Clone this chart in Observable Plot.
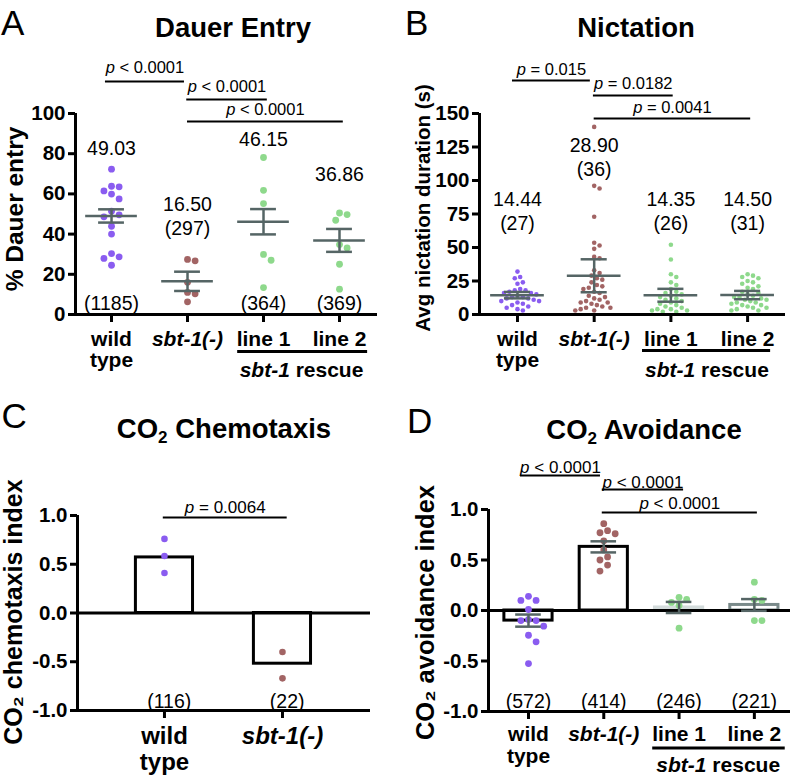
<!DOCTYPE html>
<html>
<head>
<meta charset="utf-8">
<script src="https://cdn.jsdelivr.net/npm/d3@7"></script>
<script src="https://cdn.jsdelivr.net/npm/@observablehq/plot@0.6"></script>
<style>
  html, body { margin: 0; padding: 0; background: #fff; }
  #fig { position: relative; width: 796px; height: 780px; overflow: hidden; background: #fff;
         font-family: "Liberation Sans", Arial, Helvetica, sans-serif; color: #000; }
  .panel { position: absolute; }
  .panel svg { display: block; }
  .letter { position: absolute; font-size: 35px; line-height: 1; }
  .title { position: absolute; font-size: 27.5px; font-weight: bold; line-height: 1; white-space: nowrap; transform: translateX(-50%); }
  .title sub { font-size: 0.62em; vertical-align: -0.28em; line-height: 0; }
  #fig svg [aria-label^="x-axis"] line, #fig svg [aria-label^="x-axis"] path,
  #fig svg [aria-label^="y-axis"] line, #fig svg [aria-label^="y-axis"] path { stroke-width: 3px; stroke: #000; }
  #fig svg [aria-label^="y-axis"] text { font-size: 20.5px; font-weight: bold; fill: #000; }
</style>
</head>
<body>
<div id="fig"></div>
<script>
// ================= DATA =================
const categories = ["wild type", "sbt-1(-)", "line 1", "line 2"];
const rescueLabel = "sbt-1 rescue";

// A — Dauer entry (%)
const dauerWildType = [72.3, 63.8, 63.5, 61.5, 59.9, 57.5, 51.4, 49.6, 48.6, 43.9, 40.0, 30.3, 28.7, 27.9, 24.5];
const dauerSbt1 = [27.4, 26.7, 16.0, 11.0, 10.3, 6.3];
const dauerLine1 = [78.1, 61.8, 55.2, 29.9, 27.0, 13.4];
const dauerLine2 = [50.5, 49.7, 46.9, 34.8, 33.1, 25.0, 12.6];
const dauerMeans = [49.03, 16.50, 46.15, 36.86];
const dauerSEM = [3.3, 4.8, 6.3, 5.7];
const dauerN = [1185, 297, 364, 369];
const dauerTicks = [0, 20, 40, 60, 80, 100];
const dauerPValues = ["p < 0.0001", "p < 0.0001", "p < 0.0001"];

// B — Nictation duration (s)
const nictWildType = [32, 28, 27, 24, 23, 19, 18, 18, 17, 16, 16, 15, 14, 13, 13, 12, 12, 11, 10, 10, 9, 8, 7, 6, 5, 4, 3];
const nictSbt1 = [140, 96, 94, 73, 53.5, 51.5, 49, 43, 42, 33, 31, 29, 27, 26, 24, 22, 21, 20, 19, 17, 16, 14, 13, 12, 11, 10, 9, 9, 8, 7, 6, 5, 5, 4, 3, 3];
const nictLine1 = [52, 41, 30, 28, 24, 22, 19, 17, 16, 15, 14, 13, 12, 11, 10, 9, 8, 7, 6, 5, 4, 4, 3, 3, 2, 2];
const nictLine2 = [30, 29, 28, 27, 25, 24, 23, 21, 20, 19, 17, 16, 15, 14, 13, 13, 12, 11, 11, 10, 9, 9, 8, 7, 7, 6, 5, 5, 4, 3, 3];
const nictMeans = [14.44, 28.90, 14.35, 14.50];
const nictSEM = [2.4, 12.3, 4.8, 3.1];
const nictN = [27, 36, 26, 31];
const nictTicks = [0, 25, 50, 75, 100, 125, 150];
const nictPValues = ["p = 0.015", "p = 0.0182", "p = 0.0041"];

// C — CO2 chemotaxis index
const chemoCategories = ["wild type", "sbt-1(-)"];
const chemoWildType = [0.76, 0.585, 0.41];
const chemoSbt1 = [-0.40, -0.67];
const chemoMeans = [0.57, -0.52];
const chemoN = [116, 22];
const chemoPValues = ["p = 0.0064"];
const indexTicks = [-1, -0.5, 0, 0.5, 1];

// D — CO2 avoidance index
const avoidWildType = [0.14, 0.10, 0.10, 0.01, -0.09, -0.10, -0.10, -0.155, -0.245, -0.31, -0.525];
const avoidSbt1 = [0.86, 0.79, 0.77, 0.76, 0.69, 0.60, 0.53, 0.50, 0.45, 0.39];
const avoidLine1 = [0.13, 0.11, 0.08, 0.05, -0.175];
const avoidLine2 = [0.28, 0.11, 0.10, -0.10, -0.10];
const avoidMeans = [-0.10, 0.63, 0.03, 0.055];
const avoidSEM = [0.06, 0.055, 0.055, 0.058];
const avoidN = [572, 414, 246, 221];
const avoidPValues = ["p < 0.0001", "p < 0.0001", "p < 0.0001"];

// ================= STYLE / LAYOUT =================
const FONT = '"Liberation Sans", Arial, Helvetica, sans-serif';
const INK = "#000";
const SEM_COLOR = "#556565";
const PURPLE = "#8a5cf0", BROWN = "#a26464", GREEN = "#8ed98c";
const colors4 = [PURPLE, BROWN, GREEN, GREEN];

const canvas = document.createElement("canvas");
const ctx = canvas.getContext("2d");
function textWidth(str, size, weight = "normal", style = "normal") {
  ctx.font = `${style} ${weight} ${size}px ${FONT}`;
  return ctx.measureText(str).width;
}

// deterministic beeswarm: offsets (in x units) so dots do not overlap
function swarm(values, r, kx, ky) {
  const d = 2 * r + 0.8;
  const order = d3.range(values.length).sort((a, b) => d3.descending(values[a], values[b]) || a - b);
  const placed = [];
  const out = new Array(values.length);
  for (const i of order) {
    const py = values[i] * ky;
    let chosen = 0;
    for (let k = 0; k < 400; k++) {
      const cand = k === 0 ? 0 : (k % 2 ? 1 : -1) * Math.ceil(k / 2) * d / 2;
      if (placed.every(p => (p.x - cand) ** 2 + (p.y - py) ** 2 >= d * d - 1e-6)) { chosen = cand; break; }
    }
    placed.push({x: chosen, y: py});
    out[i] = chosen / kx;
  }
  return out;
}

function pMarks(list, fs) {
  const marks = [];
  for (const p of list) {
    marks.push(Plot.ruleY([p], {x1: "x1", x2: "x2", y: "y", stroke: INK, strokeWidth: 2}));
    const rest = p.label.replace(/^p\s*/, "");
    const wP = textWidth("p", fs, "normal", "italic");
    const wS = textWidth(" ", fs);
    const W = wP + wS + textWidth(rest, fs);
    const xm = (p.x1 + p.x2) / 2;
    marks.push(Plot.text([p], {x: () => xm, y: "ty", text: () => "p", fontStyle: "italic", textAnchor: "start", dx: -W / 2, fontSize: fs, fill: INK}));
    marks.push(Plot.text([p], {x: () => xm, y: "ty", text: () => rest, textAnchor: "start", dx: -W / 2 + wP + wS, fontSize: fs, fill: INK}));
  }
  return marks;
}

function makePanel(L, S) {
  const n = S.cats.length;
  const idx = d3.range(n);
  const kx = (L.width - L.ml - L.mr) / (L.xd[1] - L.xd[0]);
  const ky = (L.height - L.mt - L.mb) / (L.yd[1] - L.yd[0]);
  const y0 = L.yd[0];
  const marks = [];

  if (S.barMeans) {
    marks.push(Plot.rect(idx, {
      x1: i => i - L.barHalf, x2: i => i + L.barHalf, y1: () => 0, y2: i => S.barMeans[i],
      fill: "white", stroke: i => S.barStrokes[i], strokeWidth: 3
    }));
  }
  if (S.zeroLine) marks.push(Plot.ruleY([0], {stroke: INK, strokeWidth: 3}));

  S.groups.forEach((vals, g) => {
    const offs = swarm(vals, L.r, kx, ky);
    const rows = vals.map((v, j) => ({x: g + offs[j], y: v}));
    marks.push(Plot.dot(rows, {x: "x", y: "y", r: L.r, fill: S.colors[g], stroke: "none"}));
  });

  if (S.showMeanLine) {
    marks.push(Plot.ruleY(idx, {x1: i => i - L.meanHalf, x2: i => i + L.meanHalf, y: i => S.means[i], stroke: SEM_COLOR, strokeWidth: 2.5}));
  }
  if (S.sem) {
    marks.push(Plot.ruleX(idx, {x: i => i, y1: i => S.means[i] - S.sem[i], y2: i => S.means[i] + S.sem[i], stroke: SEM_COLOR, strokeWidth: 2.5}));
    marks.push(Plot.ruleY(idx, {x1: i => i - L.capHalf, x2: i => i + L.capHalf, y: i => S.means[i] + S.sem[i], stroke: SEM_COLOR, strokeWidth: 2.5}));
    marks.push(Plot.ruleY(idx, {x1: i => i - L.capHalf, x2: i => i + L.capHalf, y: i => S.means[i] - S.sem[i], stroke: SEM_COLOR, strokeWidth: 2.5}));
  }

  if (S.valueLabels) marks.push(Plot.text(S.valueLabels, {x: "x", y: "y", text: "text", fontSize: 19.5, lineHeight: 1.23, fill: INK}));

  // category labels
  S.cats.forEach((c, i) => {
    const italic = c.startsWith("sbt");
    const t = c === "wild type" ? "wild\ntype" : c;
    marks.push(Plot.text([{x: i, y: y0, t}], {x: "x", y: "y", text: "t", dy: L.catDy, lineAnchor: "top",
      fontSize: L.catFs, fontWeight: "bold", fontStyle: italic ? "italic" : "normal", lineHeight: L.catLh, fill: INK}));
  });
  if (L.rescue) {
    const R = L.rescue;
    marks.push(Plot.ruleY([{x1: R.x1, x2: R.x2, y: y0}], {x1: "x1", x2: "x2", y: "y", dy: R.ruleDy, stroke: INK, strokeWidth: 3}));
    const [ital, rest] = [rescueLabel.split(" ")[0], rescueLabel.split(" ").slice(1).join(" ")];
    const fs = L.catFs;
    const w1 = textWidth(ital, fs, "bold", "italic") + textWidth(" ", fs, "bold");
    const W = w1 + textWidth(rest, fs, "bold");
    marks.push(Plot.text([{x: R.xc, y: y0}], {x: "x", y: "y", text: () => ital, dy: R.textDy, dx: -W / 2, lineAnchor: "top", textAnchor: "start", fontSize: fs, fontWeight: "bold", fontStyle: "italic", fill: INK}));
    marks.push(Plot.text([{x: R.xc, y: y0}], {x: "x", y: "y", text: () => rest, dy: R.textDy, dx: -W / 2 + w1, lineAnchor: "top", textAnchor: "start", fontSize: fs, fontWeight: "bold", fill: INK}));
  }

  marks.push(...pMarks(S.pvals, L.pFs));

  // y-axis title
  marks.push(Plot.text([{x: L.xd[0], y: L.ylabY}], {x: "x", y: "y", text: () => S.ylabel, rotate: -90, dx: L.ylabDx,
    fontSize: L.ylabFs, fontWeight: "bold", fill: INK}));

  // axis lines
  marks.push(Plot.ruleX([L.xd[0]], {stroke: INK, strokeWidth: 3}));
  marks.push(Plot.ruleY([L.yd[0]], {stroke: INK, strokeWidth: 3}));

  const svg = Plot.plot({
    width: L.width, height: L.height,
    marginLeft: L.ml, marginRight: L.mr, marginTop: L.mt, marginBottom: L.mb,
    x: {domain: L.xd, ticks: idx, tickSize: 8, tickFormat: () => "", label: null},
    y: {domain: L.yd, ticks: S.yTicks, tickSize: 7, tickPadding: 3, tickFormat: S.tickFormat, label: null},
    color: {type: "identity"},
    style: {fontFamily: FONT, fontSize: "19px", color: INK, background: "white", overflow: "visible"},
    marks
  });
  const div = document.createElement("div");
  div.className = "panel";
  div.style.left = L.left + "px";
  div.style.top = L.top + "px";
  div.appendChild(svg);
  document.getElementById("fig").appendChild(div);
}

const fmt2 = d => d.toFixed(2);
const fmt1 = d => d.toFixed(1);

// ---------- Panel A ----------
const dauerLabelY = [83, 49.3, 87.6, 70.1];
makePanel(
  {left: 0, top: 0, width: 398, height: 390, ml: 75, mr: 21, mt: 113, mb: 76, xd: [-0.474, 3.5], yd: [0, 100],
   r: 3.4, meanHalf: 0.34, capHalf: 0.17, catFs: 21, catDy: 16, catLh: 1.03, pFs: 16.5,
   rescue: {x1: 1.66, x2: 3.37, xc: 2.5, ruleDy: 37, textDy: 48},
   ylabY: 52.5, ylabDx: -60, ylabFs: 24.5},
  {cats: categories, groups: [dauerWildType, dauerSbt1, dauerLine1, dauerLine2], colors: colors4,
   means: dauerMeans, sem: dauerSEM, showMeanLine: true, yTicks: dauerTicks, tickFormat: d => String(d),
   ylabel: "% Dauer entry",
   valueLabels: [
     ...dauerMeans.map((m, i) => ({x: i, y: dauerLabelY[i], text: i === 1 ? `${fmt2(m)}\n(${dauerN[i]})` : fmt2(m)})),
     ...dauerN.map((nn, i) => i === 1 ? null : ({x: i, y: 6, text: `(${nn})`})).filter(Boolean)
   ],
   pvals: [
     {x1: -0.08, x2: 0.96, y: 115.9, ty: 122.6, label: dauerPValues[0]},
     {x1: 0.99, x2: 2.05, y: 107.0, ty: 113.4, label: dauerPValues[1]},
     {x1: 1.0, x2: 3.05, y: 96.0, ty: 101.8, label: dauerPValues[2]}
   ]}
);

// ---------- Panel B ----------
const nictLabelY = [77.6, 118.3, 77.6, 77.6];
makePanel(
  {left: 400, top: 0, width: 396, height: 390, ml: 79, mr: 11, mt: 113, mb: 76, xd: [-0.495, 3.494], yd: [0, 150],
   r: 2.3, meanHalf: 0.35, capHalf: 0.17, catFs: 21, catDy: 16, catLh: 1.03, pFs: 16.5,
   rescue: {x1: 1.63, x2: 3.30, xc: 2.47, ruleDy: 36, textDy: 48},
   ylabY: 79.5, ylabDx: -56, ylabFs: 20.5},
  {cats: categories, groups: [nictWildType, nictSbt1, nictLine1, nictLine2], colors: colors4,
   means: nictMeans, sem: nictSEM, showMeanLine: true, yTicks: nictTicks, tickFormat: d => String(d),
   ylabel: "Avg nictation duration (s)",
   valueLabels: nictMeans.map((m, i) => ({x: i, y: nictLabelY[i], text: `${fmt2(m)}\n(${nictN[i]})`})),
   pvals: [
     {x1: -0.065, x2: 0.95, y: 174.6, ty: 182.8, label: nictPValues[0]},
     {x1: 0.99, x2: 2.03, y: 163.4, ty: 172.4, label: nictPValues[1]},
     {x1: 1.0, x2: 3.04, y: 146.3, ty: 154.5, label: nictPValues[2]}
   ]}
);

// ---------- Panel C ----------
makePanel(
  {left: 0, top: 390, width: 398, height: 390, ml: 77, mr: 28, mt: 125, mb: 70, xd: [-0.737, 1.746], yd: [-1, 1],
   r: 3.3, barHalf: 0.242, catFs: 24, catDy: 15, catLh: 1.08, pFs: 17,
   ylabY: 0.01, ylabDx: -64, ylabFs: 25},
  {cats: chemoCategories, groups: [chemoWildType, chemoSbt1], colors: [PURPLE, BROWN],
   barMeans: chemoMeans, barStrokes: [INK, INK], zeroLine: true,
   yTicks: indexTicks, tickFormat: fmt1, ylabel: "CO\u2082 chemotaxis index",
   valueLabels: chemoN.map((nn, i) => ({x: i + 0.04, y: -0.895, text: `(${nn})`})),
   pvals: [{x1: -0.01, x2: 1.04, y: 0.98, ty: 1.08, label: chemoPValues[0]}]}
);

// ---------- Panel D ----------
makePanel(
  {left: 400, top: 390, width: 396, height: 390, ml: 88, mr: 6, mt: 119, mb: 69, xd: [-0.531, 3.48], yd: [-1, 1],
   r: 3.4, barHalf: 0.32, capHalf: 0.17, catFs: 21, catDy: 14.5, catLh: 1.03, pFs: 17,
   rescue: {x1: 1.65, x2: 3.41, xc: 2.52, ruleDy: 36.5, textDy: 46},
   ylabY: -0.02, ylabDx: -63, ylabFs: 25.5},
  {cats: categories, groups: [avoidWildType, avoidSbt1, avoidLine1, avoidLine2], colors: colors4,
   barMeans: avoidMeans, barStrokes: [INK, INK, "#d3dbdb", "#7a8a8a"], zeroLine: true,
   means: avoidMeans, sem: avoidSEM, showMeanLine: false,
   yTicks: indexTicks, tickFormat: fmt1, ylabel: "CO\u2082 avoidance index",
   valueLabels: avoidN.map((nn, i) => ({x: i, y: -0.885, text: `(${nn})`})),
   pvals: [
     {x1: -0.106, x2: 0.956, y: 1.337, ty: 1.416, label: avoidPValues[0]},
     {x1: 0.98, x2: 2.06, y: 1.198, ty: 1.268, label: avoidPValues[1]},
     {x1: 0.98, x2: 3.04, y: 0.97, ty: 1.059, label: avoidPValues[2]}
   ]}
);

// ---------- Panel letters & titles ----------
const headers = [
  {letter: "A", lx: 1, ly: 5, title: "Dauer Entry", tx: 233, ty: 14},
  {letter: "B", lx: 405, ly: 5, title: "Nictation", tx: 636, ty: 14},
  {letter: "C", lx: 1.5, ly: 398, title: "CO<sub>2</sub> Chemotaxis", tx: 224, ty: 415},
  {letter: "D", lx: 407, ly: 403, title: "CO<sub>2</sub> Avoidance", tx: 644, ty: 416}
];
const fig = document.getElementById("fig");
for (const h of headers) {
  const l = document.createElement("div");
  l.className = "letter"; l.textContent = h.letter;
  l.style.left = h.lx + "px"; l.style.top = h.ly + "px";
  fig.appendChild(l);
  const t = document.createElement("div");
  t.className = "title"; t.innerHTML = h.title;
  t.style.left = h.tx + "px"; t.style.top = h.ty + "px";
  fig.appendChild(t);
}
</script>
</body>
</html>
